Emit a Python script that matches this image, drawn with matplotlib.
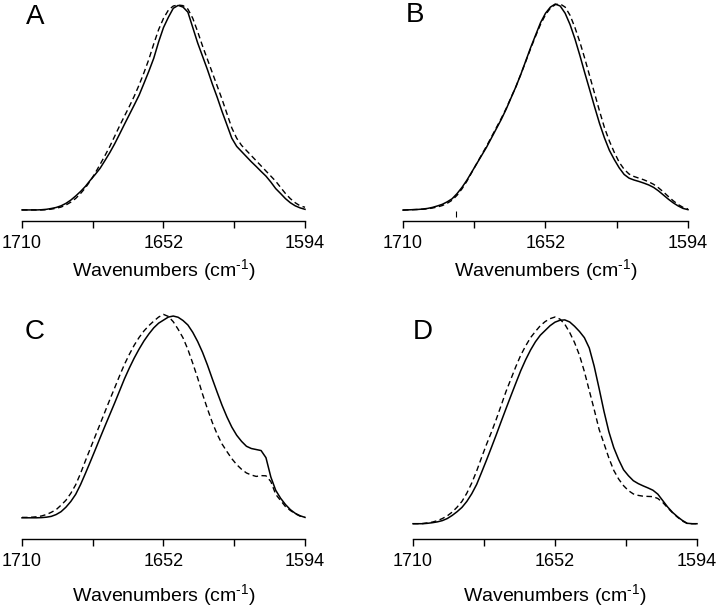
import numpy as np
import matplotlib
matplotlib.use("Agg")
import matplotlib.pyplot as plt
from matplotlib.ticker import FixedLocator

plt.rcParams["font.family"] = ["Liberation Sans", "DejaVu Sans"]
plt.rcParams["mathtext.default"] = "regular"

# ---------------------------------------------------------------
#  Data (normalised absorbance, 2 cm-1 steps)
# ---------------------------------------------------------------
wn = list(range(1710, 1593, -2))

a_solid = [0.0, 0.0, 0.0, 0.0, 0.001, 0.003, 0.007, 0.012, 0.02, 0.032,
           0.048, 0.068, 0.09, 0.115, 0.145, 0.173, 0.203, 0.241, 0.28, 0.323,
           0.37, 0.418, 0.465, 0.512, 0.56, 0.618, 0.677, 0.74, 0.82, 0.89,
           0.94, 0.984, 0.998, 0.99, 0.965, 0.89, 0.815, 0.75, 0.685, 0.615,
           0.55, 0.48, 0.415, 0.35, 0.31, 0.285, 0.26, 0.235, 0.212, 0.188,
           0.165, 0.136, 0.104, 0.08, 0.055, 0.035, 0.02, 0.01, 0.003]
a_dash = [0.0, 0.0, 0.0, 0.0, 0.0, 0.001, 0.004, 0.008, 0.014, 0.024,
          0.038, 0.056, 0.08, 0.108, 0.142, 0.18, 0.222, 0.265, 0.31, 0.36,
          0.41, 0.458, 0.505, 0.555, 0.61, 0.67, 0.735, 0.81, 0.88, 0.935,
          0.975, 0.995, 1.0, 0.997, 0.98, 0.935, 0.87, 0.80, 0.735, 0.67,
          0.605, 0.54, 0.47, 0.40, 0.35, 0.315, 0.29, 0.265, 0.24, 0.215,
          0.19, 0.165, 0.14, 0.11, 0.08, 0.055, 0.035, 0.02, 0.013]

b_solid = [0.0, 0.001, 0.002, 0.003, 0.005, 0.008, 0.013, 0.02, 0.028, 0.04,
           0.055, 0.08, 0.11, 0.145, 0.185, 0.225, 0.265, 0.305, 0.35, 0.395,
           0.44, 0.49, 0.545, 0.60, 0.66, 0.725, 0.79, 0.85, 0.91, 0.955,
           0.985, 1.0, 0.99, 0.955, 0.90, 0.83, 0.75, 0.665, 0.583, 0.50,
           0.42, 0.35, 0.29, 0.245, 0.205, 0.173, 0.155, 0.146, 0.139, 0.131,
           0.122, 0.11, 0.093, 0.073, 0.053, 0.035, 0.02, 0.008, 0.002]
b_dash = [0.0, 0.001, 0.002, 0.003, 0.004, 0.006, 0.01, 0.015, 0.022, 0.033,
          0.048, 0.072, 0.103, 0.14, 0.183, 0.226, 0.268, 0.31, 0.355, 0.40,
          0.445, 0.493, 0.547, 0.60, 0.66, 0.722, 0.785, 0.845, 0.902, 0.948,
          0.98, 0.997, 1.0, 0.985, 0.945, 0.885, 0.815, 0.735, 0.65, 0.565,
          0.48, 0.40, 0.335, 0.28, 0.232, 0.198, 0.175, 0.163, 0.155, 0.147,
          0.137, 0.125, 0.108, 0.088, 0.066, 0.045, 0.027, 0.013, 0.005]

c_solid = [0.0, 0.0, 0.0, 0.0, 0.001, 0.003, 0.007, 0.016, 0.03, 0.052,
           0.08, 0.115, 0.163, 0.218, 0.275, 0.333, 0.392, 0.45, 0.507, 0.564,
           0.623, 0.682, 0.735, 0.784, 0.828, 0.868, 0.902, 0.932, 0.955, 0.97,
           0.985, 0.99, 0.984, 0.968, 0.946, 0.91, 0.865, 0.812, 0.75, 0.682,
           0.616, 0.552, 0.495, 0.445, 0.405, 0.375, 0.351, 0.34, 0.335, 0.33,
           0.295, 0.20, 0.135, 0.096, 0.065, 0.04, 0.022, 0.01, 0.002]
c_dash = [0.002, 0.002, 0.003, 0.005, 0.009, 0.016, 0.027, 0.04, 0.062, 0.086,
          0.12, 0.162, 0.218, 0.28, 0.34, 0.40, 0.46, 0.52, 0.58, 0.638,
          0.697, 0.753, 0.802, 0.847, 0.885, 0.917, 0.943, 0.965, 0.985, 0.998,
          0.988, 0.962, 0.925, 0.883, 0.826, 0.758, 0.686, 0.607, 0.535, 0.468,
          0.41, 0.362, 0.325, 0.29, 0.261, 0.238, 0.22, 0.21, 0.203, 0.207,
          0.206, 0.178, 0.115, 0.085, 0.055, 0.036, 0.02, 0.008, 0.002]

d_solid = [0.0, 0.0, 0.0, 0.002, 0.005, 0.009, 0.015, 0.025, 0.04, 0.058,
           0.079, 0.108, 0.145, 0.19, 0.248, 0.307, 0.368, 0.43, 0.494, 0.557,
           0.619, 0.68, 0.74, 0.793, 0.84, 0.88, 0.912, 0.935, 0.958, 0.975,
           0.984, 0.986, 0.976, 0.955, 0.93, 0.90, 0.85, 0.762, 0.655, 0.544,
           0.445, 0.368, 0.31, 0.261, 0.232, 0.208, 0.194, 0.183, 0.173, 0.162,
           0.143, 0.112, 0.081, 0.055, 0.034, 0.016, 0.002, 0.0, 0.0]
d_dash = [0.0, 0.0, 0.001, 0.004, 0.008, 0.015, 0.025, 0.038, 0.056, 0.08,
          0.108, 0.148, 0.197, 0.255, 0.32, 0.383, 0.442, 0.505, 0.572, 0.64,
          0.70, 0.76, 0.815, 0.86, 0.90, 0.93, 0.958, 0.978, 0.992, 1.0,
          0.99, 0.965, 0.925, 0.876, 0.815, 0.736, 0.644, 0.553, 0.457, 0.388,
          0.318, 0.258, 0.216, 0.184, 0.16, 0.144, 0.137, 0.133, 0.132, 0.131,
          0.122, 0.103, 0.077, 0.053, 0.032, 0.013, 0.001, 0.0, 0.0]

labels = ["A", "B", "C", "D"]
solids = [a_solid, b_solid, c_solid, d_solid]
dashes = [a_dash, b_dash, c_dash, d_dash]

major_ticks = [1710, 1652, 1594]
minor_ticks = [1681, 1623]

# ---------------------------------------------------------------
#  Layout (pixel boxes: left, right, top, bottom, y-min)
# ---------------------------------------------------------------
W, H = 720, 608
boxes = [(22, 305, 5, 221, -0.054),
         (403, 688, 4, 221, -0.053),
         (22, 305, 314, 539, -0.104),
         (413, 697, 317, 539, -0.074)]
letter_pos = [(35, 17), (415, 15), (35, 332), (423, 332)]
labelpads = [4, 4, 9, 9]

fig = plt.figure(figsize=(W / 100, H / 100), dpi=100)

for i in range(4):
    l, r, t, b, ymin = boxes[i]
    ax = fig.add_axes([l / W, 1 - b / H, (r - l) / W, (b - t) / H])
    ax.plot(wn, solids[i], color="black", lw=1.1, clip_on=False)
    ax.plot(wn, dashes[i], color="black", lw=1.0, ls=(0, (4, 2.5)), clip_on=False)
    if i == 1:
        # small stray mark under the trace in panel B
        ax.plot([1688.3], [-0.02], marker="|", color="black", ms=4, mew=0.8)
    ax.set_xlim(1710, 1594)
    ax.set_ylim(ymin, 1.0)
    for s in ["top", "right", "left"]:
        ax.spines[s].set_visible(False)
    ax.spines["bottom"].set_linewidth(1.0)
    ax.set_yticks([])
    ax.xaxis.set_major_locator(FixedLocator(major_ticks))
    ax.xaxis.set_minor_locator(FixedLocator(minor_ticks))
    ax.tick_params(axis="x", which="both", direction="out", length=5, width=1.0,
                   labelsize=13, pad=5)
    ax.set_xlabel("Wavenumbers (cm$^{\u2010 1}$)", fontsize=14, labelpad=labelpads[i])
    ax.patch.set_alpha(0)
    fig.text(letter_pos[i][0] / W, 1 - letter_pos[i][1] / H, labels[i],
             fontsize=20, ha="center", va="center")

fig.savefig("out.png", dpi=100)
